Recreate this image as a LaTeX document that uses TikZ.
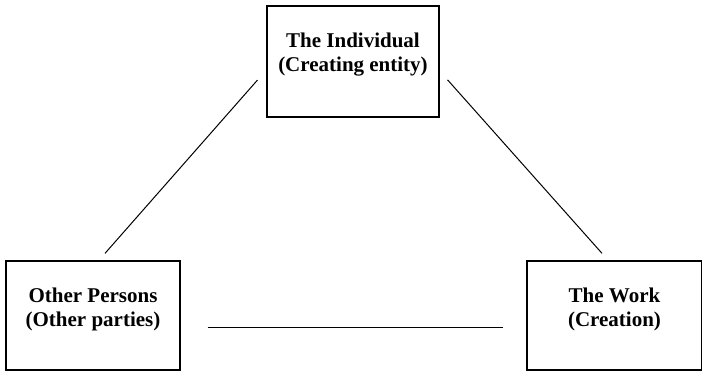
\documentclass[tikz,border=0pt]{standalone}
\usepackage{fontspec}
\setmainfont{Liberation Serif}
\usetikzlibrary{positioning}
\begin{document}
\begin{tikzpicture}[x=0.50pt,y=0.50pt,yscale=-1,xscale=1,
  partybox/.style={draw, line width=0.6pt, inner sep=0pt},
  partytext/.style={font=\fontsize{10.5}{12}\selectfont\bfseries, align=center, inner sep=0pt},
  tie/.style={line width=0.5pt}]
\useasboundingbox (0,0) rectangle (702,372);

%Shape: Rectangle [id:indiv]
\node [partybox, minimum width=86pt, minimum height=55.5pt] (indiv) at (353,61.5) {};
%Shape: Rectangle [id:others]
\node [partybox, minimum width=87pt, minimum height=54.5pt] (others) at (93,315.5) {};
%Shape: Rectangle [id:work]
\node [partybox, minimum width=87.5pt, minimum height=54.5pt] (work) at (614.5,315.5) {};

% Text Node
\node [partytext] (indivtxt) at (353,55) {The Individual\\(Creating entity)};
% Text Node
\node [partytext] (otherstxt) at (93,309) {Other Persons\\(Other parties)};
% Text Node
\node [partytext] (worktxt) at (614.5,309) {The Work\\(Creation)};

% Connection
\draw [tie, shorten <=6.8pt, shorten >=4.7pt] ([yshift=4.2pt]indiv.west) -- ([xshift=2.9pt]others.north);
% Connection
\draw [tie, shorten <=6pt, shorten >=4.7pt] ([yshift=4.7pt]indiv.east) -- ([xshift=-3.1pt]work.north);
% Connection
\draw [tie, shorten <=13.5pt, shorten >=11.5pt] ([yshift=5.75pt]others.east) -- ([yshift=5.75pt]work.west);

\end{tikzpicture}
\end{document}
